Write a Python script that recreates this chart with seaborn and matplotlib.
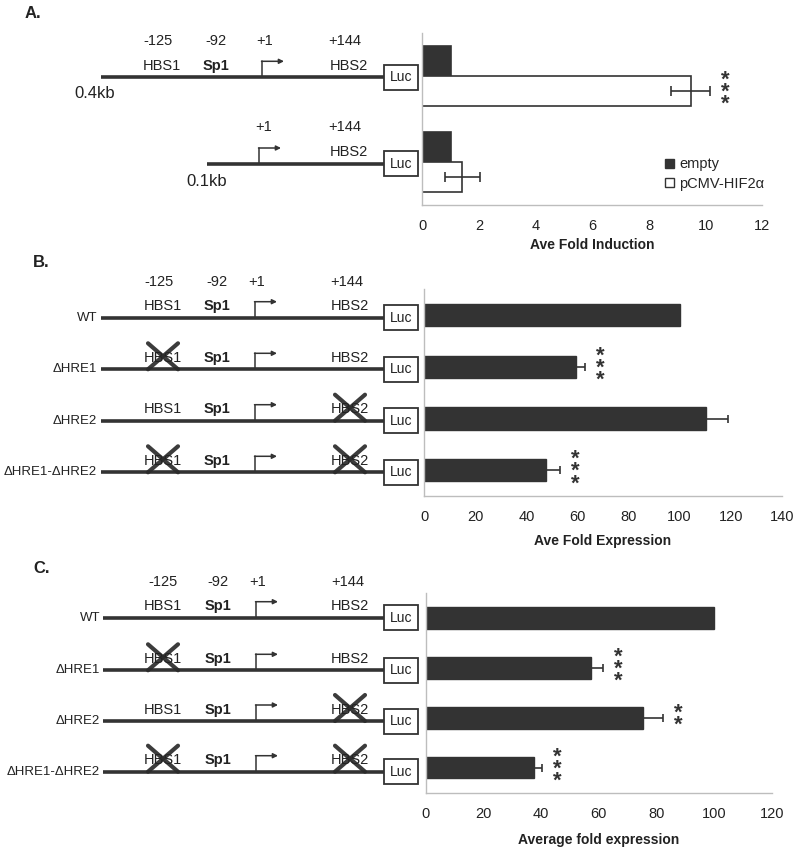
"""
Reporter constructs (HBS1 / Sp1 / HBS2 -> Luc) with luciferase bar charts.
Panel A: HIF2a induction of 0.4kb / 0.1kb promoters.
Panels B, C: HRE deletion mutants.
"""

import numpy as np
import pandas as pd
import matplotlib
matplotlib.use("Agg")
import matplotlib.pyplot as plt
from matplotlib.patches import Patch, Rectangle
import seaborn as sns

# ---------------------------------------------------------
# Data
# ---------------------------------------------------------
a_constructs = ["0.4kb", "0.1kb"]
a_groups = ["empty", "pCMV-HIF2α"]
a_empty = [1.0, 1.0]
a_hif = [9.47, 1.41]
a_hif_err = [0.69, 0.62]
a_stars = ["***", ""]
a_ticks = [0, 2, 4, 6, 8, 10, 12]

mutants = ["WT", "ΔHRE1", "ΔHRE2", "ΔHRE1-ΔHRE2"]
b_values = [100.0, 59.4, 110.4, 47.6]
b_err = [0.0, 3.6, 8.4, 5.4]
b_stars = ["", "***", "", "***"]
b_ticks = [0, 20, 40, 60, 80, 100, 120, 140]

c_values = [100.0, 57.2, 75.2, 37.5]
c_err = [0.0, 4.3, 7.0, 2.7]
c_stars = ["", "***", "**", "***"]
c_ticks = [0, 20, 40, 60, 80, 100, 120]

# which binding sites are knocked out in each mutant
knockouts = [[], ["HBS1"], ["HBS2"], ["HBS1", "HBS2"]]

# ---------------------------------------------------------
# Style
# ---------------------------------------------------------
sns.set_theme(style="white")
plt.rcParams["font.family"] = ["Liberation Sans", "DejaVu Sans"]
DARK = "#333333"
TXT = "#222222"
AXC = "#bdbdbd"
W, H = 800, 855

fig = plt.figure(figsize=(8, 8.55), dpi=100)


def px_axes(left, right, top, bottom):
    return fig.add_axes([left / W, 1 - bottom / H, (right - left) / W, (bottom - top) / H])


def style_axis(ax, n, xmax, ticks, label, pad):
    ax.set_xlim(0, xmax)
    ax.set_ylim(n - 0.5, -0.5)
    ax.set_yticks(np.arange(n + 1) - 0.5)
    ax.set_yticklabels([])
    ax.set_ylabel("")
    ax.set_xticks(ticks)
    ax.set_xticklabels([str(t) for t in ticks])
    ax.set_xlabel(label, fontweight="bold", fontsize=10, labelpad=pad, color=TXT)
    for side in ["top", "right"]:
        ax.spines[side].set_visible(False)
    for side in ["left", "bottom"]:
        ax.spines[side].set_color(AXC)
        ax.spines[side].set_linewidth(1)
    ax.tick_params(axis="both", direction="out", length=3, color=AXC, width=1)
    ax.tick_params(axis="x", labelsize=10.5, labelcolor=TXT, pad=7)
    ax.set_facecolor("none")


def add_stars(ax, x, y, s):
    # stacked asterisks, one text object
    ax.annotate("\n".join(s), xy=(x, y), xytext=(11, -1), textcoords="offset points",
                ha="center", va="center", fontsize=16, fontweight="bold",
                linespacing=0.45, color=DARK)


def bar_centers(container):
    return [p.get_y() + p.get_height() / 2 for p in container]


# overlay in pixel coordinates for the promoter diagrams
dg = fig.add_axes([0, 0, 1, 1])
dg.set_xlim(0, W)
dg.set_ylim(H, 0)
dg.axis("off")


def construct(y, x0, sites, arrow_x, hits=(), name=None, name_x=None):
    dg.plot([x0, 384], [y, y], color=DARK, lw=2.6, solid_capstyle="butt")
    dg.add_patch(Rectangle((384, y - 12.5), 34, 25, facecolor="white", edgecolor=DARK, lw=1.3))
    dg.text(401, y, "Luc", ha="center", va="center", fontsize=10, color=TXT)
    # transcription start arrow
    dg.plot([arrow_x, arrow_x], [y, y - 16], color=DARK, lw=1.1)
    dg.annotate("", xy=(arrow_x + 22, y - 16), xytext=(arrow_x - 0.5, y - 16),
                arrowprops=dict(arrowstyle="-|>", color=DARK, lw=1.1, mutation_scale=7,
                                shrinkA=0, shrinkB=0))
    for text, x in sites:
        dg.text(x, y - 11.5, text, ha="center", va="center", fontsize=10.5, color=TXT,
                fontweight="bold" if text == "Sp1" else "normal")
        if text in hits:
            dg.plot([x - 15, x + 15], [y - 26, y], color="#2b2b2b", lw=3, alpha=0.92)
            dg.plot([x - 15, x + 15], [y, y - 26], color="#2b2b2b", lw=3, alpha=0.92)
    if name is not None:
        dg.text(name_x, y, name, ha="right", va="center", fontsize=9.5, color=TXT)


def positions(y, xs):
    for text, x in zip(["-125", "-92", "+1", "+144"], xs):
        dg.text(x, y, text, ha="center", va="center", fontsize=10.5, color=TXT)


# ---------------------------------------------------------
# Panel A
# ---------------------------------------------------------
df_a = pd.DataFrame({
    "construct": a_constructs * 2,
    "vector": [a_groups[0]] * len(a_constructs) + [a_groups[1]] * len(a_constructs),
    "fold": a_empty + a_hif,
})
axA = px_axes(422.3, 762.3, 33, 205)
sns.barplot(data=df_a, y="construct", x="fold", hue="vector", order=a_constructs,
            hue_order=a_groups, palette={a_groups[0]: DARK, a_groups[1]: "white"},
            orient="h", width=0.7, edgecolor=DARK, linewidth=1.2, errorbar=None,
            legend=False, ax=axA)
ys_a = bar_centers(axA.containers[1])
axA.errorbar(a_hif, ys_a, xerr=a_hif_err, fmt="none", ecolor=DARK, elinewidth=1.2,
             capsize=3.5, capthick=1.2)
for v, e, y, s in zip(a_hif, a_hif_err, ys_a, a_stars):
    if s:
        add_stars(axA, v + e, y, s)
style_axis(axA, len(a_constructs), 12, a_ticks, "Ave Fold Induction", 4)
handles = [Patch(facecolor=DARK, edgecolor=DARK, lw=1),
           Patch(facecolor="white", edgecolor=DARK, lw=1)]
axA.legend(handles, a_groups, loc="center left", bbox_to_anchor=(0.715, 0.18),
           frameon=False, handlelength=0.6, handleheight=0.6, handletextpad=0.35,
           labelspacing=0.35, borderpad=0, borderaxespad=0, fontsize=10.5)

fig.text(25 / W, 1 - 13 / H, "A.", fontsize=12, fontweight="bold", va="center", color=TXT)
positions(40.7, [158, 216, 265, 345])
construct(77.3, 101, [("HBS1", 162), ("Sp1", 216), ("HBS2", 349)], 262)
dg.text(95, 93, "0.4kb", ha="center", va="center", fontsize=12, color=TXT)
for text, x in zip(["+1", "+144"], [264, 345]):
    dg.text(x, 127, text, ha="center", va="center", fontsize=10.5, color=TXT)
construct(164, 207, [("HBS2", 349)], 259)
dg.text(207, 181, "0.1kb", ha="center", va="center", fontsize=12, color=TXT)

# ---------------------------------------------------------
# Panels B and C
# ---------------------------------------------------------
def mutant_panel(values, errs, stars, box, xmax, ticks, label, pad):
    ax = px_axes(*box)
    sns.barplot(y=mutants, x=values, order=mutants, color=DARK, orient="h", width=0.43,
                edgecolor=DARK, linewidth=1, errorbar=None, ax=ax)
    ys = bar_centers(ax.containers[0])
    keep = [i for i, e in enumerate(errs) if e > 0]
    ax.errorbar([values[i] for i in keep], [ys[i] for i in keep],
                xerr=[errs[i] for i in keep], fmt="none", ecolor=DARK,
                elinewidth=1.2, capsize=2.7, capthick=1.2)
    for v, e, y, s in zip(values, errs, ys, stars):
        if s:
            add_stars(ax, v + e, y, s)
    style_axis(ax, len(mutants), xmax, ticks, label, pad)
    return ax


mutant_panel(b_values, b_err, b_stars, (424.3, 781.7, 289.5, 496), 140, b_ticks,
             "Ave Fold Expression", 7)
fig.text(33 / W, 1 - 262 / H, "B.", fontsize=12, fontweight="bold", va="center", color=TXT)
positions(281.7, [159, 217, 257, 347])
for row_y, name, hits in zip([317.7, 369.3, 420.7, 472.3], mutants, knockouts):
    construct(row_y, 101, [("HBS1", 163), ("Sp1", 217), ("HBS2", 350)], 255,
              hits=hits, name=name, name_x=97)

mutant_panel(c_values, c_err, c_stars, (426, 771.7, 593, 792.7), 120, c_ticks,
             "Average fold expression", 9)
fig.text(33 / W, 1 - 568 / H, "C.", fontsize=12, fontweight="bold", va="center", color=TXT)
positions(582.3, [163, 218, 258, 348])
for row_y, name, hits in zip([617.7, 670.3, 721, 771.7], mutants, knockouts):
    construct(row_y, 103, [("HBS1", 163), ("Sp1", 218), ("HBS2", 350)], 256,
              hits=hits, name=name, name_x=100)

fig.savefig("out.png", dpi=100)
